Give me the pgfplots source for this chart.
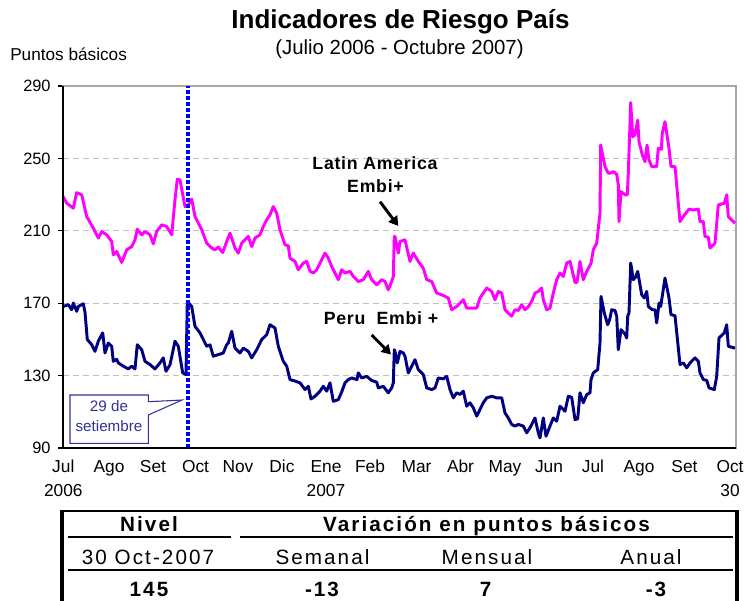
\documentclass[border=0pt]{standalone}
\usepackage{fontspec}
\setmainfont{Liberation Sans}
\newfontfamily\spaced[LetterSpace=10]{Liberation Sans}
\newfontfamily\annot[LetterSpace=4]{Liberation Sans}
\usepackage{pgfplots}
\pgfplotsset{compat=1.18}
\usetikzlibrary{arrows.meta}
\definecolor{mag}{RGB}{255,0,255}
\definecolor{nav}{RGB}{0,0,128}
\definecolor{callc}{RGB}{51,51,153}
\definecolor{gridc}{RGB}{192,192,192}
\begin{document}
\begin{tikzpicture}[x=0.75pt,y=-0.75pt]
\useasboundingbox (0,0) rectangle (753,600);
\begin{axis}[
  at={(47.25pt,-336pt)}, anchor=south west,
  width=504.75pt, height=271.5pt, scale only axis,
  xmin=0, xmax=673, ymin=90, ymax=290,
  ytick={90,130,170,210,250,290},
  xtick={0.3,46,90,132.5,175,219,263,307,353.5,397.5,442,486,530,576,621.5,667},
  xticklabels={Jul\\2006,Ago,Set,Oct,Nov,Dic,Ene\\2007,Feb,Mar,Abr,May,Jun,Jul,Ago,Set,Oct\\30},
  xtick style={draw=none},
  ytick pos=left, tick align=outside, major tick length=3.75pt,
  ytick style={black, line width=0.8pt},
  ymajorgrids, grid style={gridc, line width=0.8pt, dash pattern=on 4.5pt off 3pt},
  axis line style={draw=gray!70, line width=0.8pt},
  /pgf/number format/assume math mode=true,
  yticklabel style={font=\fontsize{12.3}{14}\selectfont, xshift=-2pt},
  xticklabel style={font=\fontsize{13}{18}\selectfont, align=center, anchor=north, yshift=-2pt},
  clip=false,
]
\addplot[mag, line width=2.2pt, line join=round] coordinates {
(0,229)(3.7,225.3)(10.3,222.5)(13.7,231.1)(18.7,229.9)(23.7,217.9)(30.3,211.5)(35.3,206)(38.7,209.6)(43.7,207.8)(48.7,204.1)(50.3,196.8)(53.7,198.6)(58.7,192.5)(63.7,199.5)(68.7,201.3)(72,205)(74.3,210.9)(78.7,207.8)(82,209.6)(87,207.8)(90.3,202.8)(93.7,209.6)(98.7,213.3)(103.7,212.4)(108.7,207.8)(112,227.1)(114.3,238.5)(117,238.1)(122,223.4)(125.3,224.3)(128.7,227.5)(132,217.9)(138.7,210.6)(143.7,203.2)(148.7,200.5)(152,199.5)(155.3,201)(159.7,198)(163.7,204.1)
(167,208.7)(172,200.5)(175.3,197.7)(178.7,203.2)(185.3,206.9)(188.7,201.3)(192,206)(197,207.8)(200.3,212.4)(203.7,216.1)(207,218.8)(210.3,223.4)(213.7,219.8)(217,210.6)(222,202.3)(225.3,201.7)(227,194.9)(232,193.1)(235.3,188.5)(240.3,192.2)(243.7,193.1)(247,187.6)(250.3,186.7)(253.7,188.5)(258.7,194)(262,197.7)(265.3,194.9)(268.7,190.3)(272,186.7)(275.3,183)(278.7,188.5)(282,186.7)(287,187.6)(290.3,184.8)(295.3,182)(300.3,183)(305.3,187.6)(308.7,183)(313.7,180.2)(318.7,183)(322,182)(325.3,177.4)(328.7,182)(330.3,184.8)(331.3,206.9)(332,206.9)
(335.3,197.7)(337,204.1)(342,205)(347,193.1)(350.3,197.7)(355.3,193.1)(360.3,189.4)(363.7,183)(368.7,182)(373.7,175.6)(378.7,174.7)(385.3,172.9)(388.7,166.4)(393.7,168.2)(400.3,171.9)(403.7,167.3)(413.7,167.3)(417,172.9)(423.7,178.4)(428.7,176.5)(432,171.9)(435.3,176.5)(438.7,175.6)(442,166.4)(445.3,164.6)(448.7,162.8)(452,166.4)(455.3,166)(458.7,169.2)(462,166.4)(465.3,168)(468.7,171)(472,175.6)(475.3,176.5)(478.7,178.4)(480.3,171.9)(483.7,166.4)(487,167.3)(490.3,175.6)(493.7,183)(497,186.7)(500.3,184.8)(503.7,192.2)(507,193.1)(512,181.5)(514,181.5)(517,193.1)(520.3,183)(523.7,187.6)(528,192)(530.3,199.5)(533.7,203.2)(537,219.8)
(537.7,257.4)(542,245.5)(545.3,241.8)(548,242)(550.3,242.7)(553.7,241.3)(555.3,235.4)(556,215.1)(558,231.7)(562,229.9)(564.3,229.9)(565.3,241.8)(567.7,280.8)(569.7,262)(572,263)(574.7,271.2)(576,259.3)(579.3,251.9)(582,248.2)(584,257.4)(586,249.2)(588.7,245.5)(593.7,245.5)(595.3,255.6)(598.3,255)(599.3,263.9)(602,270.3)(606,255.6)(608,245.5)(612,245.5)(617,215.1)(620.3,217.9)(626,222)(630.3,221.5)(635.3,222)(637,215.1)(640.3,215.1)(642,206.9)(645.3,206.5)(647,200.5)(652,203.2)(655.3,224.3)(661.3,225.2)(663.7,229.9)(665.3,217.9)(672,214.2)
};
\addplot[nav, line width=2.2pt, line join=round] coordinates {
(0.3,168.2)(5.3,169.2)(8.7,166.4)(10.3,170.1)(13.7,165.5)(15.3,168.2)(20.3,169.7)(22,165)(24.3,149.9)(28.7,147.1)(32,143.4)(35.3,149)(39.7,153.6)(42,142.5)(45.3,148)(48.7,146.2)(50.3,137.9)(53.7,139)(55.3,137)(60.3,135.2)(65.3,133.7)(68.7,135.2)(72,133.7)(74.3,147.1)(78.7,144.3)(82,137.9)(87,136.1)(92,133.7)(97,137)(100.3,139.8)(103,132.4)(107,136)(112,149)(115.3,146.2)(119.7,131.5)(123,130.6)(124.3,171)(128.7,168.2)(132,157.2)(137,153.6)(140.3,150)(143.7,146.2)(147,147)(150.3,140.7)(155.3,141.6)(160.3,142.5)(163.7,147.1)
(165.3,148)(168.7,154.5)(172,145.2)(177,142.5)(180.3,145.2)(185.3,143.4)(188.7,139.8)(193.7,144.3)(198.7,149.9)(203.7,152.6)(207,158.1)(212,156.3)(215.3,146.2)(220.3,137.9)(223.7,135.2)(227,127.8)(232,127)(237,126)(242,122.3)(245.3,124.1)(248,117.1)(252,118.6)(257,121.4)(260.3,124.1)(263.7,121.4)(267,126)(270.3,115.8)(275.3,116.7)(278.7,121)(282,126)(285.3,127.8)(288.7,128.7)(294,127.8)(295.3,131.5)(298.7,128.7)(303.7,129.6)(308.7,127.3)(313.7,126.4)(315.3,123.2)(320.3,124.1)(325.3,120.5)(328.7,123.2)(330.3,126)(331.3,144.3)
(332,143.4)(334.3,137)(337,143.4)(340.3,142.5)(342,140.7)(345.3,131.5)(348.7,135.2)(352,138.8)(355.3,133.3)(360.3,130.6)(363.7,123.2)(368.7,122.3)(372,123.2)(375.3,128.7)(380.3,128.2)(383.7,129.6)(387,122.3)(390.3,117.7)(393.7,120.5)(397,119.6)(400.3,121.4)(403.7,113.1)(407,115)(410.3,112.2)(413.7,107.6)(417,111.3)(420.3,115)(423.7,117.7)(428.7,118.6)(433.7,117.7)(438.7,117.7)(442,109.4)(445.3,106.6)(448.7,103)(452,102.1)(455.3,103)(460.3,102.1)(463.7,98.4)(467,101.2)(472,106.6)(475.3,98.4)(477,95.6)(480.3,106.6)(483,96.5)(487,102.1)(490.3,106.6)(493.7,104.8)(497,113.1)(500.3,111.3)(502,110.3)(505.3,118.6)(508.7,118)(512,105.7)(514.7,106.1)(517,120.5)(520.3,115)(523.7,119.5)(527,120.5)(528,127.8)(530.3,131.5)(534.7,133.3)(537,148)
(538,173.8)(541.3,164.6)(544.7,158.1)(546.7,161)(548.7,166.4)(552,166)(553.7,162.8)(555.3,144.3)(558,155.4)(562,153)(563.7,150.8)(564.7,162.8)(566,164.6)(567.7,192.2)(570.3,183)(572.7,184.5)(574.7,187.6)(578.7,174.7)(581.3,172.9)(583.7,176.5)(585.3,168.2)(589.3,166.4)(592,166.4)(593.7,159.1)(596,170.1)(597.7,168.2)(602,183.9)(606,172.9)(608,163.7)(612,163.1)(617,136.1)(620.3,137)(623.7,134.3)(627,137)(632,139.8)(635.3,137.9)(637,131.5)(640.3,127.8)(643.7,127.4)(646,123.2)(651.3,122.3)(653.7,129.6)(656,150.8)(661.3,153.6)(663.7,158.1)(665.3,146.2)(672,145.2)
};
\addplot[blue, line width=3.3pt, dash pattern=on 3pt off 1.5pt] coordinates {(125,90)(125,290)};
\draw[black, line width=0.9pt] (rel axis cs:0,1) -- (rel axis cs:0,0) -- (rel axis cs:1,0);
\end{axis}
% titles
\node[anchor=base, inner sep=0] at (400.5,28.3) {\fontsize{19.5}{22}\selectfont\bfseries Indicadores de Riesgo País};
\node[anchor=base, inner sep=0] at (399.5,54.5) {\fontsize{15.3}{18}\selectfont (Julio 2006 - Octubre 2007)};
\node[anchor=base west, inner sep=0] at (10,60.7) {\fontsize{12.9}{15}\selectfont Puntos básicos};
% annotations
\node[anchor=base, inner sep=0] at (375,169.3) {\annot\fontsize{13.3}{15}\selectfont\bfseries Latin America};
\node[anchor=base, inner sep=0] at (375.5,192.7) {\annot\fontsize{13.3}{15}\selectfont\bfseries Embi+};
\draw[line width=2.2pt, -{Triangle[length=7pt,width=8pt]}] (380,201.7) -- (398.3,226);
\node[anchor=base, inner sep=0] at (381,324) {\annot\fontsize{13.3}{15}\selectfont\bfseries Peru\ \ Embi +};
\draw[line width=2.2pt, -{Triangle[length=7pt,width=8pt]}] (371.7,335) -- (391,354.5);
% callout
\draw[callc, fill=white, line width=0.8pt] (70,395) -- (148.3,395) -- (148.3,401.7) -- (182,400) -- (148.3,415) -- (148.3,443.3) -- (70,443.3) -- cycle;
\node[anchor=base, inner sep=0, text=callc] at (109,411.7) {\fontsize{11.4}{13}\selectfont 29 de};
\node[anchor=base, inner sep=0, text=callc] at (109,431.7) {\fontsize{11.4}{13}\selectfont setiembre};
% table
\draw[line width=1.6pt] (62,511) -- (737,511);
\draw[line width=3pt] (62,510) -- (62,610);
\draw[line width=3pt] (737,510) -- (737,610);
\draw[line width=1.75pt] (68,537.3) -- (231,537.3);
\draw[line width=1.75pt] (240,537.3) -- (733,537.3);
\draw[line width=1.75pt] (68,570) -- (733,570);
\node[anchor=base, inner sep=0] at (149,531.7) {\spaced\fontsize{15.5}{17}\selectfont\bfseries Nivel};
\node[anchor=base, inner sep=0] at (486.5,531.7) {\spaced\fontsize{15.5}{17}\selectfont\bfseries Variación en puntos básicos};
\node[anchor=base, inner sep=0] at (148,564) {\spaced\fontsize{15.5}{17}\selectfont 30 Oct-2007};
\node[anchor=base, inner sep=0] at (322.5,564) {\spaced\fontsize{15.5}{17}\selectfont Semanal};
\node[anchor=base, inner sep=0] at (487,564) {\spaced\fontsize{15.5}{17}\selectfont Mensual};
\node[anchor=base, inner sep=0] at (651,564) {\spaced\fontsize{15.5}{17}\selectfont Anual};
\node[anchor=base, inner sep=0] at (149,596.7) {\spaced\fontsize{15.5}{17}\selectfont\bfseries 145};
\node[anchor=base, inner sep=0] at (322,596.7) {\spaced\fontsize{15.5}{17}\selectfont\bfseries -13};
\node[anchor=base, inner sep=0] at (485.5,596.7) {\spaced\fontsize{15.5}{17}\selectfont\bfseries 7};
\node[anchor=base, inner sep=0] at (656,596.7) {\spaced\fontsize{15.5}{17}\selectfont\bfseries -3};
\end{tikzpicture}
\end{document}
